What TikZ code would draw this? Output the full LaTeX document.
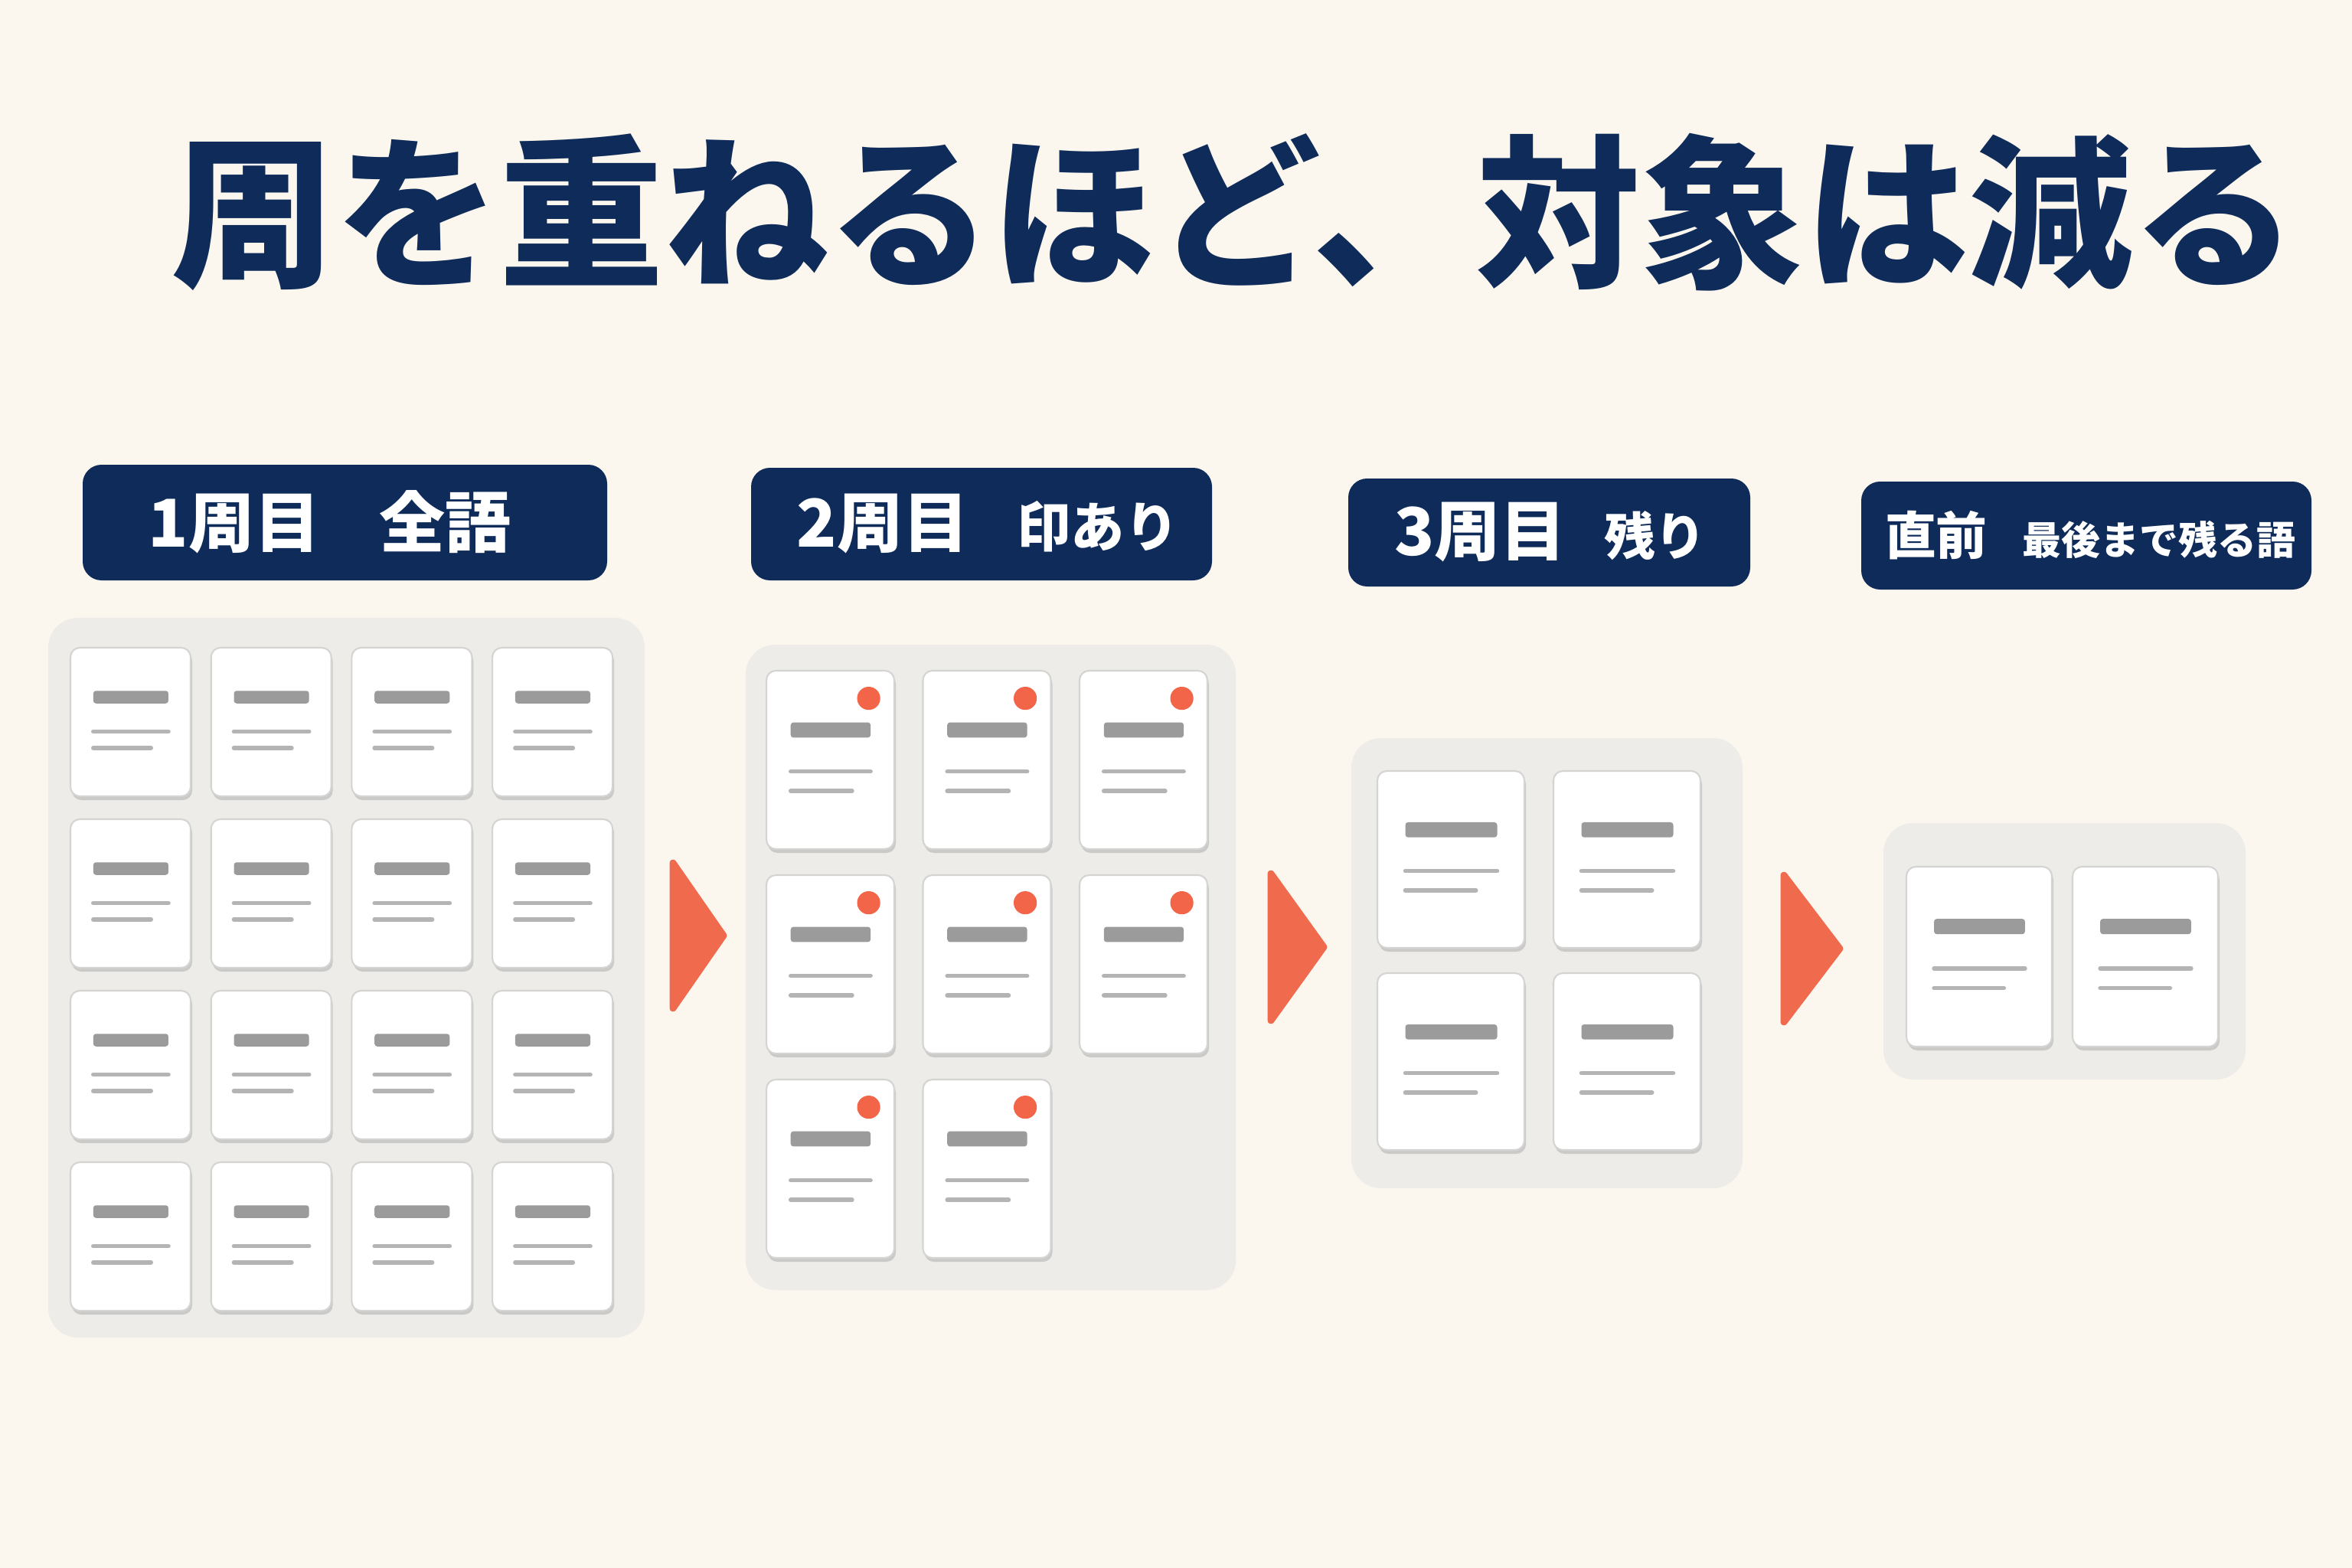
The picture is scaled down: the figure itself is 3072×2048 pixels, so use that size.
\documentclass[tikz,border=0pt]{standalone}
\usepackage{fontspec}
\setmainfont{Noto Sans CJK JP}
\usetikzlibrary{positioning}

\definecolor{bgcream}{RGB}{251,247,238}
\definecolor{navy}{RGB}{14,43,90}
\definecolor{panelgray}{RGB}{238,236,232}
\definecolor{cardedge}{RGB}{212,212,210}
\definecolor{cardshade}{RGB}{202,202,200}
\definecolor{bargray}{RGB}{155,155,155}
\definecolor{linegray}{RGB}{180,180,180}
\definecolor{markred}{RGB}{242,101,72}
\definecolor{arroworange}{RGB}{240,106,78}

% 単語カード: 左上x, 左上y, 幅, 高さ
\newcommand{\wordcard}[4]{%
  \fill[cardshade, rounded corners=3.5pt] ({#1+2},{#2+5}) rectangle ++(#3,#4);
  \filldraw[cardbox] ({#1},{#2}) rectangle ++(#3,#4);
  \fill[bargray, rounded corners=1pt] ({#1+0.19*#3},{#2+0.29*#4}) rectangle ({#1+0.815*#3},{#2+0.375*#4});
  \draw[cardline] ({#1+0.19*#3},{#2+0.565*#4}) -- ({#1+0.815*#3},{#2+0.565*#4});
  \draw[cardline] ({#1+0.19*#3},{#2+0.675*#4}) -- ({#1+0.67*#3},{#2+0.675*#4});
}
% 印（赤い丸）
\newcommand{\markdot}[4]{\fill[markred] ({#1+0.8*#3},{#2+0.155*#4}) circle (4.3pt);}

\begin{document}
\begin{tikzpicture}[x=0.1mm, y=-0.1mm,
    panel/.style={fill=panelgray, rounded corners=11pt},
    cardbox/.style={fill=white, draw=cardedge, line width=0.6pt, rounded corners=3.5pt},
    cardline/.style={linegray, line width=1.6pt, line cap=round},
    header/.style={fill=navy, rounded corners=7pt, text=white, inner sep=0pt},
    big/.style={font=\bfseries\fontsize{24.5pt}{28pt}\selectfont},
    arrowtri/.style={fill=arroworange, draw=arroworange, line width=2.5pt, line join=round}]
  % 1. 背景
  \fill[bgcream] (0,0) rectangle (3072,2048);
  \useasboundingbox (0,0) rectangle (3072,2048);

  % 2. タイトル
  \node[text=navy, font=\bfseries\fontsize{61pt}{70pt}\selectfont] (title) at (1612,277) {周を重ねるほど、対象は減る};

  % 3. 見出し
  \node[header, minimum width=68.5mm, minimum height=15.1mm] (h1) at (450.5,682.5) {};
  \node[big, text=white] (t1) at (431,682) {1周目\hspace{22pt}全語};
  \node[header, minimum width=60.2mm, minimum height=14.7mm] (h2) at (1282,684.5) {};
  \node[text=white] (t2) at (1290,684) {{\bfseries\fontsize{24.5pt}{28pt}\selectfont 2周目}\hspace{18pt}{\bfseries\fontsize{20pt}{24pt}\selectfont 印あり}};
  \node[header, minimum width=52.5mm, minimum height=14.1mm] (h3) at (2023.5,695.5) {};
  \node[text=white] (t3) at (2025,695) {{\bfseries\fontsize{24.5pt}{28pt}\selectfont 3周目}\hspace{14pt}{\bfseries\fontsize{19pt}{23pt}\selectfont 残り}};
  \node[header, minimum width=58.8mm, minimum height=14.1mm] (h4) at (2725,699.5) {};
  \node[text=white] (t4) at (2730,699) {{\bfseries\fontsize{19pt}{23pt}\selectfont 直前}\hspace{13pt}{\bfseries\fontsize{14.5pt}{18pt}\selectfont 最後まで残る語}};

  % 4. カードの枠
  \fill[panel] (63,807) rectangle (842,1747);
  \fill[panel] (974,842) rectangle (1614,1685);
  \fill[panel] (1765,964) rectangle (2276,1552);
  \fill[panel] (2460,1075) rectangle (2933,1410);

  % 5. カード
  \foreach \c in {0,...,3}
    \foreach \r in {0,...,3}
      {\wordcard{92+183.7*\c}{846+224*\r}{157}{194}}
  \foreach \c/\r in {0/0,1/0,2/0,0/1,1/1,2/1,0/2,1/2}
    {\wordcard{1001+204.5*\c}{876+267*\r}{167}{233}
     \markdot{1001+204.5*\c}{876+267*\r}{167}{233}}
  \foreach \c in {0,1}
    \foreach \r in {0,1}
      {\wordcard{1799+230*\c}{1007+264*\r}{192}{231}}
  \foreach \c in {0,1}
    {\wordcard{2490+217*\c}{1132}{190}{235}}

  % 6. 矢印（三角）
  \filldraw[arrowtri] (879,1127) -- (945,1222) -- (879,1317) -- cycle;
  \filldraw[arrowtri] (1660,1141) -- (1729,1237) -- (1660,1333) -- cycle;
  \filldraw[arrowtri] (2330,1143) -- (2403,1239) -- (2330,1335) -- cycle;
\end{tikzpicture}
\end{document}
